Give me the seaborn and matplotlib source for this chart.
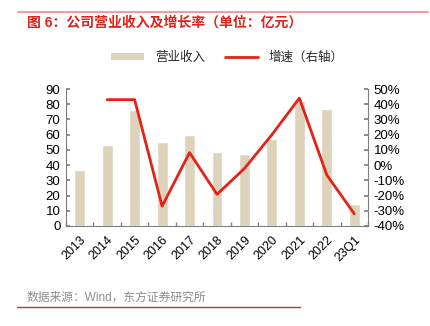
import numpy as np
import pandas as pd
import matplotlib
matplotlib.use("Agg")
import matplotlib.pyplot as plt
from matplotlib.patches import Patch
from matplotlib.lines import Line2D
from matplotlib.ticker import FuncFormatter, MultipleLocator, FixedLocator
import seaborn as sns

# Revenue (100m CNY) and YoY growth (%)
periods = ["2013", "2014", "2015", "2016", "2017", "2018", "2019", "2020", "2021", "2022", "23Q1"]
revenue = [37, 53, 76, 55.5, 60, 48.8, 47.5, 57, 82, 77, 14.5]
growth = [np.nan, 43, 43, -27, 8.2, -19.2, -2.2, 20, 44, -6.5, -32]

sns.set_theme(style="white")
plt.rcParams["font.family"] = ["Liberation Sans", "Noto Sans CJK SC"]
plt.rcParams["axes.unicode_minus"] = False

BAR = "#DDD3BA"
RED = "#E62117"
SPINE = "#7F7F7F"

df = pd.DataFrame({"period": periods, "revenue": revenue, "growth": growth,
                   "pos": np.arange(len(periods))})

fig = plt.figure(figsize=(4.3, 3.26), dpi=100)
ax = fig.add_axes([66 / 430, 1 - 226 / 326, (368 - 66) / 430, (226 - 89) / 326])

sns.barplot(data=df, x="period", y="revenue", color=BAR, width=0.4,
            saturation=1, ax=ax, order=periods)

ax2 = ax.twinx()
line_df = df.dropna(subset=["growth"])
sns.lineplot(data=line_df, x="pos", y="growth", color=RED, linewidth=2,
             ax=ax2, legend=False)

ax.set_xlim(-0.5, len(periods) - 0.5)
ax.set_ylim(0, 90)
ax2.set_ylim(-40, 50)
ax.yaxis.set_major_locator(MultipleLocator(10))
ax2.yaxis.set_major_locator(MultipleLocator(10))
ax2.yaxis.set_major_formatter(FuncFormatter(lambda v, p: f"{v:.0f}%"))

ax.set_xlabel("")
ax.set_ylabel("")
ax2.set_xlabel("")
ax2.set_ylabel("")

ax.set_xticks(np.arange(len(periods)))
ax.set_xticklabels(periods, rotation=45, ha="right", rotation_mode="anchor")
ax.xaxis.set_minor_locator(FixedLocator(np.arange(-0.5, len(periods), 1.0)))
ax.tick_params(axis="x", which="major", length=0, pad=6, labelsize=9, colors="#000000")
ax.tick_params(axis="x", which="minor", bottom=True, direction="in", length=3, color=SPINE)
ax.tick_params(axis="y", left=True, direction="in", length=3, color=SPINE,
               labelsize=9.5, pad=4, labelcolor="#000000")
ax2.tick_params(axis="y", right=True, direction="in", length=3, color=SPINE,
                labelsize=9.5, pad=4, labelcolor="#000000")

for a in (ax, ax2):
    a.spines["top"].set_visible(False)
    for s in ("left", "right", "bottom"):
        a.spines[s].set_color(SPINE)
        a.spines[s].set_linewidth(0.8)
ax.spines["right"].set_visible(False)
ax2.spines["left"].set_visible(False)
ax2.spines["bottom"].set_visible(False)
ax.grid(False)
ax2.grid(False)

handles = [Patch(facecolor=BAR, edgecolor="none"),
           Line2D([0], [0], color=RED, linewidth=2)]
fig.legend(handles, ["营业收入", "增速（右轴）"], loc="center left",
           bbox_to_anchor=(100 / 430, 1 - 58 / 326), ncol=2, frameon=False,
           fontsize=9, handlelength=2.6, handleheight=0.45, handletextpad=0.9,
           columnspacing=1.6)

# Header and footer
fig.add_artist(Line2D([18 / 430, 428 / 430], [1 - 12 / 326, 1 - 12 / 326],
                      color="#F08A87", linewidth=1.2))
fig.text(27 / 430, 1 - 23 / 326, "图 6：公司营业收入及增长率（单位：亿元）",
         color="#E0231C", fontsize=10, fontweight="bold", va="center", ha="left")
fig.text(27 / 430, 1 - 298 / 326, "数据来源：Wind，东方证券研究所",
         color="#8C8C8C", fontsize=8.5, va="center", ha="left")
fig.add_artist(Line2D([17 / 430, 300 / 430], [1 - 307 / 326, 1 - 307 / 326],
                      color="#C0392B", linewidth=1.0))

fig.savefig("out.png", dpi=100)
